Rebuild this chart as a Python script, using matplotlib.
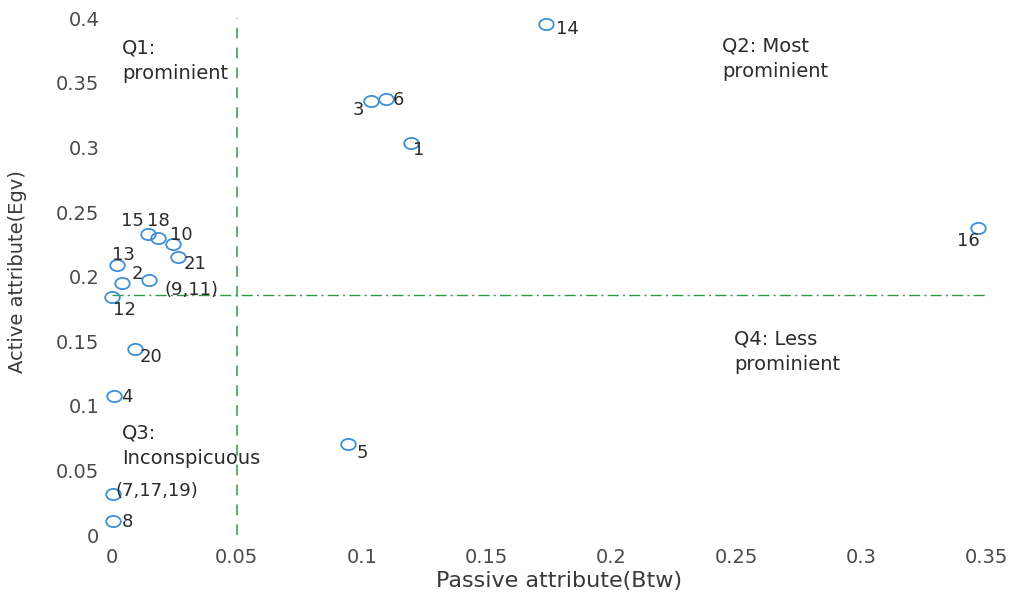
import matplotlib.pyplot as plt
from matplotlib.path import Path
from matplotlib.transforms import Affine2D

plt.rcParams['font.family'] = ['DejaVu Sans']

# node ids, betweenness (passive) and eigenvector (active) scores
labels = ['14', '3', '6', '1', '16', '15', '18', '10', '21', '13', '2',
          '(9,11)', '12', '20', '4', '5', '(7,17,19)', '8']
btw = [0.1738, 0.1037, 0.1097, 0.1197, 0.3468, 0.0144, 0.0184, 0.0244, 0.0264,
       0.0020, 0.0040, 0.0148, 0.0000, 0.0092, 0.0008, 0.0945, 0.0004, 0.0004]
egv = [0.3955, 0.3360, 0.3375, 0.3034, 0.2376, 0.2330, 0.2299, 0.2252, 0.2152,
       0.2090, 0.1950, 0.1970, 0.1840, 0.1440, 0.1076, 0.0704, 0.0317, 0.0108]

# thresholds splitting the quadrants
btw_cut = 0.05
egv_cut = 0.1858

# label offsets in points (dx, dy, ha)
offsets = {
    '14': (7, -3.5, 'left'), '3': (-5, -6.5, 'right'), '6': (5, -1, 'left'),
    '1': (1.5, -5, 'left'), '16': (1.5, -9, 'right'), '15': (-3, 9, 'right'),
    '18': (0, 12, 'center'), '10': (-2, 6.5, 'left'), '21': (4, -5, 'left'),
    '13': (-3.6, 7, 'left'), '2': (7, 6.5, 'left'), '(9,11)': (11.5, -6.5, 'left'),
    '12': (1, -9, 'left'), '20': (3.6, -6, 'left'), '4': (5, -1, 'left'),
    '5': (6.5, -6.5, 'left'), '(7,17,19)': (1.5, 2, 'left'), '8': (6, -1, 'left'),
}

fig = plt.figure(figsize=(10.12, 6.01), dpi=100)
ax = fig.add_axes([0.1008, 0.099, 0.8834, 0.8815])

ax.plot([btw_cut, btw_cut], [0, 0.4], '--', color='#2f9a45', lw=1.1, dashes=(7, 6))
ax.plot([0, 0.35], [egv_cut, egv_cut], color='#2f9a45', lw=1.0,
        dashes=(8, 3, 1.5, 3))

# slightly wide open ellipse marker
ring = Path.unit_circle().transformed(Affine2D().scale(1.3, 1.0))
ax.plot(btw, egv, ls='none', marker=ring, ms=10.5, mfc='none', mec='#3d8fd6',
        mew=1.3, zorder=3)

for lab, x, y in zip(labels, btw, egv):
    dx, dy, ha = offsets[lab]
    ax.annotate(lab, (x, y), xytext=(dx, dy), textcoords='offset points',
                ha=ha, va='center', fontsize=13, color='#2b2b2b', zorder=4)

quad_kw = dict(fontsize=14, color='#2b2b2b', va='center', ha='left', linespacing=1.45)
ax.text(0.0040, 0.3669, 'Q1:\nprominient', **quad_kw)
ax.text(0.2443, 0.3684, 'Q2: Most\nprominient', **quad_kw)
ax.text(0.2490, 0.1420, 'Q4: Less\nprominient', **quad_kw)
ax.text(0.0040, 0.0693, 'Q3:\nInconspicuous', **quad_kw)

ax.set_xlim(-0.004, 0.354)
ax.set_ylim(-0.005, 0.405)
xt = [0, 0.05, 0.1, 0.15, 0.2, 0.25, 0.3, 0.35]
yt = [0, 0.05, 0.1, 0.15, 0.2, 0.25, 0.3, 0.35, 0.4]
ax.set_xticks(xt)
ax.set_xticklabels(['0' if v == 0 else f'{v:g}' for v in xt])
ax.set_yticks(yt)
ax.set_yticklabels(['0' if v == 0 else f'{v:g}' for v in yt])
ax.tick_params(length=0, labelsize=14, labelcolor='#4a4a4a')
ax.tick_params(axis='x', pad=5)
ax.tick_params(axis='y', pad=2)
for s in ax.spines.values():
    s.set_visible(False)

ax.set_xlabel('Passive attribute(Btw)', fontsize=16, color='#3a3a3a', va='center')
ax.set_ylabel('Active attribute(Egv)', fontsize=14, color='#3a3a3a', va='center')
ax.xaxis.set_label_coords(0.5115, -0.0745)
ax.yaxis.set_label_coords(-0.094, 0.51)

fig.savefig('out.png', dpi=100)
